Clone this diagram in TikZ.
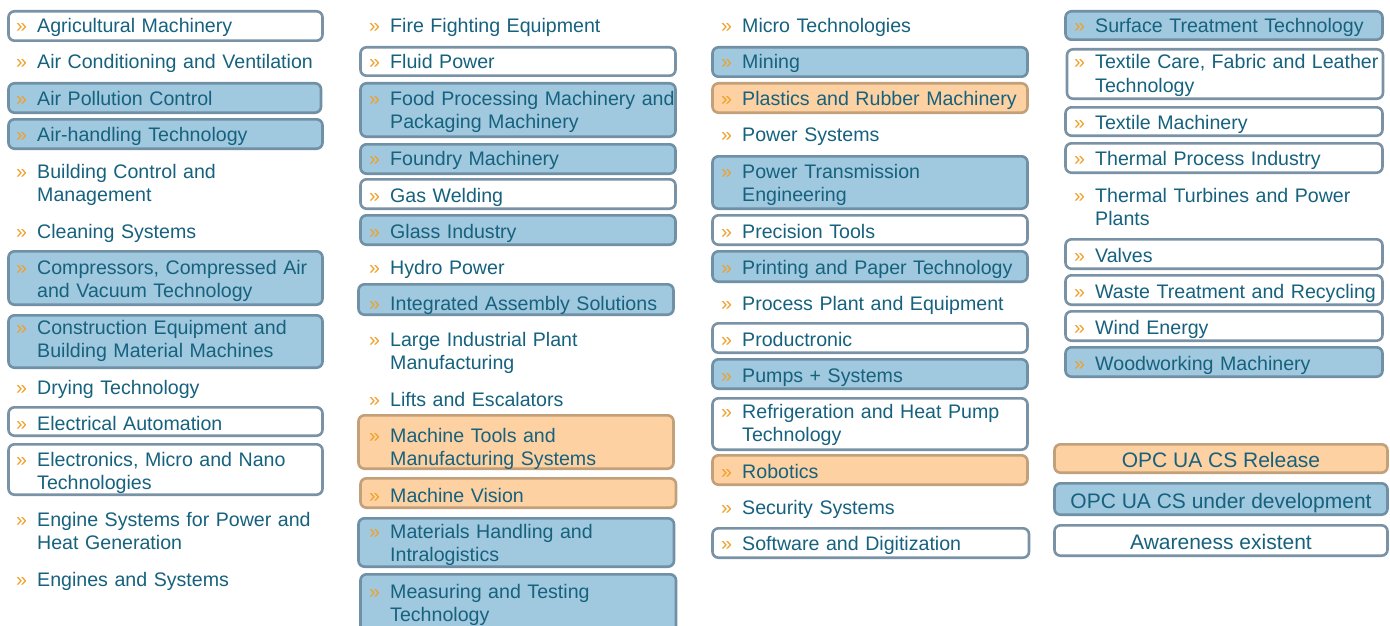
\documentclass[tikz,border=0pt]{standalone}
\usepackage{fontspec}
\setmainfont{Liberation Sans}
\usetikzlibrary{fit}
\definecolor{tcol}{RGB}{22,98,126}
\definecolor{chevcol}{RGB}{240,160,40}
\definecolor{bfill}{RGB}{160,200,222}
\definecolor{bline}{RGB}{112,144,166}
\definecolor{wline}{RGB}{122,146,166}
\definecolor{ofill}{RGB}{253,209,162}
\definecolor{oline}{RGB}{194,160,122}
\tikzset{
  basebox/.style={rectangle, rounded corners=6pt, line width=2.6pt, inner sep=0pt},
  wbox/.style={basebox, draw=wline, fill=white},
  bbox/.style={basebox, draw=bline, fill=bfill},
  obox/.style={basebox, draw=oline, fill=ofill},
  txt/.style={anchor=base west, inner sep=0pt, text=tcol, text width=330pt, align=left,
    yshift=-1pt, font=\fontsize{19.6}{23.6}\selectfont},
  chev/.style={anchor=base west, inner sep=0pt, text=chevcol, font=\fontsize{19.6}{23.6}\selectfont},
  legtxt/.style={anchor=base, inner sep=0pt, text=tcol, yshift=-1pt, font=\fontsize{21}{25}\selectfont},
}
\newcommand\itm[4]{%
  \node[txt] (#1) at (#2,#3) {#4};
  \node[chev] (#1c) at ([xshift=-21pt]#1.base west) {»};
}
\newcommand\bx[6]{\node[#1, fit={(#3,#4)(#5,#6)}] (#2) {};}
\begin{document}
\begin{tikzpicture}[x=1pt,y=-1pt]
\clip (0,0) rectangle (1390,626);
\fill[white] (0,0) rectangle (1390,626);
% ---------- column 1 ----------
\bx{wbox}{b-agri}{8.5}{11.3}{322.5}{40.7}
\itm{agri}{37}{32}{Agricultural Machinery}
\itm{aircond}{37}{68}{Air Conditioning and Ventilation}
\bx{bbox}{b-airpoll}{8.5}{83.3}{321}{112.7}
\itm{airpoll}{37}{104}{Air Pollution Control}
\bx{bbox}{b-airhand}{8.5}{119.3}{322.5}{148.7}
\itm{airhand}{37}{140}{Air-handling Technology}
\itm{building}{37}{177}{Building Control and\\Management}
\itm{cleaning}{37}{237}{Cleaning Systems}
\bx{bbox}{b-compr}{8.5}{251.3}{322.5}{304.7}
\itm{compr}{37}{273}{Compressors, Compressed Air\\and Vacuum Technology}
\bx{bbox}{b-constr}{8.5}{315.3}{322.5}{367.7}
\itm{constr}{37}{333}{Construction Equipment and\\Building Material Machines}
\itm{drying}{37}{393}{Drying Technology}
\bx{wbox}{b-elecauto}{8.5}{407.3}{322.5}{435.7}
\itm{elecauto}{37}{429}{Electrical Automation}
\bx{wbox}{b-electronics}{8.5}{444.3}{322.5}{494.7}
\itm{electronics}{37}{465}{Electronics, Micro and Nano\\Technologies}
\itm{engine}{37}{525}{Engine Systems for Power and\\Heat Generation}
\itm{engines}{37}{585}{Engines and Systems}
% ---------- column 2 ----------
\itm{fire}{390}{32}{Fire Fighting Equipment}
\bx{wbox}{b-fluid}{360.5}{47.3}{675.5}{75.7}
\itm{fluid}{390}{68}{Fluid Power}
\bx{bbox}{b-food}{360.5}{83.3}{675.5}{136.7}
\itm{food}{390}{104}{Food Processing Machinery and\\Packaging Machinery}
\bx{bbox}{b-foundry}{360.5}{144.3}{675.5}{173.7}
\itm{foundry}{390}{164}{Foundry Machinery}
\bx{wbox}{b-gas}{360.5}{179.3}{675.5}{208.7}
\itm{gas}{390}{201}{Gas Welding}
\bx{bbox}{b-glass}{360.5}{215.3}{675.5}{244.7}
\itm{glass}{390}{237}{Glass Industry}
\itm{hydro}{390}{273}{Hydro Power}
\bx{bbox}{b-integ}{358.5}{284.3}{673.5}{314.7}
\itm{integ}{390}{309}{Integrated Assembly Solutions}
\itm{large}{390}{345}{Large Industrial Plant\\Manufacturing}
\itm{lifts}{390}{405}{Lifts and Escalators}
\bx{obox}{b-machtools}{358.5}{415.3}{673.5}{468.7}
\itm{machtools}{390}{441}{Machine Tools and\\Manufacturing Systems}
\bx{obox}{b-machvision}{360.5}{478.3}{676}{507.7}
\itm{machvision}{390}{501}{Machine Vision}
\bx{bbox}{b-materials}{358.5}{518.3}{674}{566.7}
\itm{materials}{390}{537}{Materials Handling and\\Intralogistics}
\bx{bbox}{b-measuring}{360.5}{574.3}{676}{640}
\itm{measuring}{390}{597}{Measuring and Testing\\Technology}
% ---------- column 3 ----------
\itm{micro}{742}{32}{Micro Technologies}
\bx{bbox}{b-mining}{712.5}{47.3}{1027.5}{76.7}
\itm{mining}{742}{68}{Mining}
\bx{obox}{b-plastics}{712.5}{83.3}{1027.5}{112.7}
\itm{plastics}{742}{104}{Plastics and Rubber Machinery}
\itm{powersys}{742}{140}{Power Systems}
\bx{bbox}{b-powertrans}{712.5}{156.3}{1027.5}{208.7}
\itm{powertrans}{742}{177}{Power Transmission\\Engineering}
\bx{wbox}{b-precision}{712.5}{215.3}{1027.5}{244.7}
\itm{precision}{742}{237}{Precision Tools}
\bx{bbox}{b-printing}{712.5}{251.3}{1027.5}{281.7}
\itm{printing}{742}{273}{Printing and Paper Technology}
\itm{process}{742}{309}{Process Plant and Equipment}
\bx{wbox}{b-productronic}{712.5}{323.3}{1027.5}{352.7}
\itm{productronic}{742}{345}{Productronic}
\bx{bbox}{b-pumps}{712.5}{359.3}{1027.5}{388.7}
\itm{pumps}{742}{381}{Pumps + Systems}
\bx{wbox}{b-refrig}{712.5}{398.3}{1027.5}{449.7}
\itm{refrig}{742}{417}{Refrigeration and Heat Pump\\Technology}
\bx{obox}{b-robotics}{712.5}{455.3}{1027.5}{484.7}
\itm{robotics}{742}{477}{Robotics}
\itm{security}{742}{513}{Security Systems}
\bx{wbox}{b-software}{712.5}{528.3}{1029}{557.7}
\itm{software}{742}{549}{Software and Digitization}
% ---------- column 4 ----------
\bx{bbox}{b-surface}{1065.5}{11.3}{1382.5}{39.7}
\itm{surface}{1095}{32}{Surface Treatment Technology}
\bx{wbox}{b-textilecare}{1067}{49.3}{1383}{98.7}
\itm{textilecare}{1095}{68}{Textile Care, Fabric and Leather\\Technology}
\bx{wbox}{b-textilemach}{1065.5}{107.3}{1382.5}{135.7}
\itm{textilemach}{1095}{128}{Textile Machinery}
\bx{wbox}{b-thermalproc}{1065.5}{143.3}{1382.5}{172.7}
\itm{thermalproc}{1095}{164}{Thermal Process Industry}
\itm{thermalturb}{1095}{201}{Thermal Turbines and Power\\Plants}
\bx{wbox}{b-valves}{1065.5}{239.3}{1382.5}{268.7}
\itm{valves}{1095}{261}{Valves}
\bx{wbox}{b-waste}{1065.5}{275.3}{1382.5}{304.7}
\itm{waste}{1095}{297}{Waste Treatment and Recycling}
\bx{wbox}{b-wind}{1065.5}{311.3}{1382.5}{340.7}
\itm{wind}{1095}{333}{Wind Energy}
\bx{bbox}{b-wood}{1065.5}{347.3}{1382.5}{376.7}
\itm{wood}{1095}{369}{Woodworking Machinery}
% ---------- legend ----------
\bx{obox}{l-release}{1054.5}{444.3}{1387.5}{472.7}
\node[legtxt] (t-release) at (1221,466) {OPC UA CS Release};
\bx{bbox}{l-dev}{1054.5}{483.3}{1387.5}{514.7}
\node[legtxt] (t-dev) at (1221,507) {OPC UA CS under development};
\bx{wbox}{l-aware}{1054.5}{525.3}{1387.5}{555.7}
\node[legtxt] (t-aware) at (1221,548) {Awareness existent};
\end{tikzpicture}
\end{document}
